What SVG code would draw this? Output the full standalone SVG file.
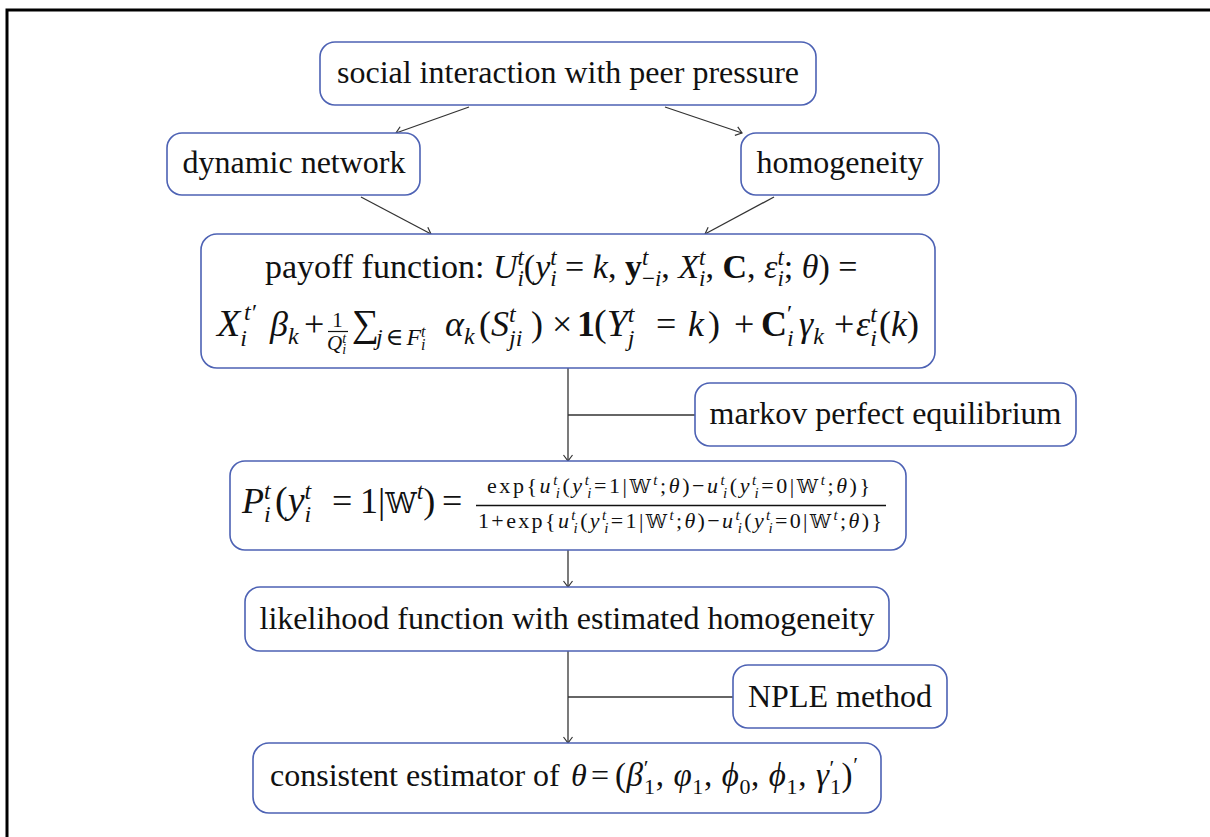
<svg xmlns="http://www.w3.org/2000/svg" width="1210" height="837" viewBox="0 0 1210 837">
<style>
.box{fill:#fff;stroke:#4d62b4;stroke-width:1.6}
.tx{font-family:"Liberation Serif","Times New Roman","DejaVu Serif",serif;fill:#111}
.c{text-anchor:middle}
.i{font-style:italic}
.b{font-weight:bold}
.ds{font-family:"DejaVu Serif","DejaVu Sans","Noto Sans",serif;font-style:normal}
.ln{fill:none;stroke:#333;stroke-width:1.3}
</style>
<defs>
<marker id="ah" markerUnits="userSpaceOnUse" markerWidth="12" markerHeight="12" viewBox="-1 -6 8 12" refX="6" refY="0" orient="auto">
<path d="M0,-4.5 L6,0 L0,4.5" fill="none" stroke="#333" stroke-width="1.2"/>
</marker>
</defs>
<path d="M7,837 V10 H1210" fill="none" stroke="#000" stroke-width="3"/>
<g id="connectors">
<path class="ln" d="M469,107 L396,133" marker-end="url(#ah)"/>
<path class="ln" d="M665,107 L742,133" marker-end="url(#ah)"/>
<path class="ln" d="M361,197 L431,234" marker-end="url(#ah)"/>
<path class="ln" d="M774,197 L705,234" marker-end="url(#ah)"/>
<path class="ln" d="M568,368 V461" marker-end="url(#ah)"/>
<path class="ln" d="M568,415 H695"/>
<path class="ln" d="M568,550 V587" marker-end="url(#ah)"/>
<path class="ln" d="M568,651 V743" marker-end="url(#ah)"/>
<path class="ln" d="M568,697 H733"/>
</g>
<g id="social">
<rect class="box" x="320" y="42" width="496" height="63" rx="15"/>
<text class="tx c" x="568" y="83" font-size="32">social interaction with peer pressure</text>
</g>
<g id="dynamic">
<rect class="box" x="167" y="133" width="253" height="62" rx="15"/>
<text class="tx c" x="294" y="173" font-size="32">dynamic network</text>
</g>
<g id="homogeneity">
<rect class="box" x="741" y="133" width="198" height="62" rx="15"/>
<text class="tx c" x="840" y="173" font-size="32">homogeneity</text>
</g>
<g id="payoff">
<rect class="box" x="201" y="234" width="734" height="134" rx="16"/>
<text class="tx" x="265" y="278" font-size="34">payoff function: <tspan class="i">U</tspan><tspan class="i" font-size="23" y="265">t</tspan><tspan class="i" font-size="23" dx="-6.4" y="286">i</tspan><tspan y="278">(</tspan><tspan class="i">y</tspan><tspan class="i" font-size="23" y="265">t</tspan><tspan class="i" font-size="23" dx="-6.4" y="286">i</tspan><tspan y="278"> = </tspan><tspan class="i">k</tspan>, <tspan class="b">y</tspan><tspan class="i" font-size="23" y="265">t</tspan><tspan font-size="23" dx="-6.4" y="286">−<tspan class="i">i</tspan></tspan><tspan y="278">, </tspan><tspan class="i">X</tspan><tspan class="i" font-size="23" y="265">t</tspan><tspan class="i" font-size="23" dx="-6.4" y="286">i</tspan><tspan y="278">, </tspan><tspan class="b">C</tspan>, <tspan class="i">ε</tspan><tspan class="i" font-size="23" y="265">t</tspan><tspan class="i" font-size="23" dx="-6.4" y="286">i</tspan><tspan y="278">; </tspan><tspan class="i">θ</tspan>) =</text>
<text class="tx" x="217" y="336" font-size="38"><tspan class="i">X</tspan><tspan class="i" font-size="24" y="346">i</tspan><tspan class="i" font-size="24" dx="-3" y="320">t′</tspan></text>
<text class="tx" x="270" y="336" font-size="36"><tspan class="i">β</tspan><tspan class="i" font-size="24" y="344">k</tspan></text>
<text class="tx" x="304" y="336" font-size="36">+</text>
<text class="tx c" x="337.5" y="327" font-size="21">1</text>
<line x1="328" y1="331.5" x2="348" y2="331.5" stroke="#111" stroke-width="1.2"/>
<text class="tx" x="327" y="350" font-size="21"><tspan class="i">Q</tspan><tspan class="i" font-size="14" y="343">t</tspan><tspan class="i" font-size="14" dx="-3.9" y="354">i</tspan></text>
<text class="tx" x="352" y="336" font-size="38">∑</text>
<text class="tx" x="376" y="345" font-size="24"><tspan class="i">j</tspan><tspan dx="3">∈</tspan><tspan class="i" dx="3">F</tspan><tspan class="i" font-size="16" y="337">t</tspan><tspan class="i" font-size="16" dx="-4.5" y="350">i</tspan></text>
<text class="tx" x="445" y="336" font-size="36"><tspan class="i">α</tspan><tspan class="i" font-size="24" y="344">k</tspan></text>
<text class="tx" x="479" y="336" font-size="36">(<tspan class="i">S</tspan><tspan class="i" font-size="24" y="322">t</tspan><tspan class="i" font-size="24" dx="-6.7" y="346">ji</tspan></text>
<text class="tx" x="531" y="336" font-size="36">)</text>
<text class="tx" x="552" y="336" font-size="36">×</text>
<text class="tx" x="577" y="336" font-size="36"><tspan class="b">1</tspan></text>
<text class="tx" x="594" y="336" font-size="38">(<tspan class="i">Y</tspan><tspan class="i" font-size="24" y="322">t</tspan><tspan class="i" font-size="24" dx="-6.7" y="346">j</tspan></text>
<text class="tx" x="656" y="336" font-size="36">=</text>
<text class="tx" x="688" y="336" font-size="36"><tspan class="i">k</tspan></text>
<text class="tx" x="708" y="336" font-size="36">)</text>
<text class="tx" x="734" y="336" font-size="36">+</text>
<text class="tx" x="761" y="336" font-size="36"><tspan class="b">C</tspan><tspan class="i" font-size="24" y="346">i</tspan><tspan font-size="24" dx="-6.7" y="321">′</tspan></text>
<text class="tx" x="799" y="336" font-size="36"><tspan class="i">γ</tspan><tspan class="i" font-size="24" y="344">k</tspan></text>
<text class="tx" x="834" y="336" font-size="36">+</text>
<text class="tx" x="856" y="336" font-size="36"><tspan class="i">ε</tspan><tspan class="i" font-size="24" y="322">t</tspan><tspan class="i" font-size="24" dx="-6.7" y="346">i</tspan></text>
<text class="tx" x="879" y="336" font-size="36">(<tspan class="i">k</tspan>)</text>
</g>
<g id="markov">
<rect class="box" x="695" y="383" width="381" height="63" rx="15"/>
<text class="tx c" x="885.5" y="424" font-size="32">markov perfect equilibrium</text>
</g>
<g id="probability">
<rect class="box" x="230" y="461" width="676" height="89" rx="15"/>
<text class="tx" x="242" y="513" font-size="36"><tspan class="i">P</tspan><tspan class="i" font-size="24" y="499">t</tspan><tspan class="i" font-size="24" dx="-6.7" y="522">i</tspan></text>
<text class="tx" x="275" y="513" font-size="38">(<tspan class="i">y</tspan><tspan class="i" font-size="24" y="499">t</tspan><tspan class="i" font-size="24" dx="-6.7" y="522">i</tspan></text>
<text class="tx" x="332" y="513" font-size="36">=</text>
<text class="tx" x="360" y="513" font-size="36">1|<tspan class="ds" font-size="28">𝕎</tspan><tspan class="i" font-size="24" y="499">t</tspan><tspan y="513">)</tspan></text>
<text class="tx" x="442" y="513" font-size="36">=</text>
<text class="tx" x="487" y="493" font-size="22" textLength="383" lengthAdjust="spacing">exp{<tspan class="i">u</tspan><tspan class="i" font-size="15" y="485">t</tspan><tspan class="i" font-size="15" dx="-4.2" y="498">i</tspan><tspan y="493">(</tspan><tspan class="i">y</tspan><tspan class="i" font-size="15" y="485">t</tspan><tspan class="i" font-size="15" dx="-4.2" y="498">i</tspan><tspan y="493">=1|</tspan><tspan class="ds" font-size="19">𝕎</tspan><tspan class="i" font-size="15" y="485">t</tspan><tspan y="493">;</tspan><tspan class="i">θ</tspan>)−<tspan class="i">u</tspan><tspan class="i" font-size="15" y="485">t</tspan><tspan class="i" font-size="15" dx="-4.2" y="498">i</tspan><tspan y="493">(</tspan><tspan class="i">y</tspan><tspan class="i" font-size="15" y="485">t</tspan><tspan class="i" font-size="15" dx="-4.2" y="498">i</tspan><tspan y="493">=0|</tspan><tspan class="ds" font-size="19">𝕎</tspan><tspan class="i" font-size="15" y="485">t</tspan><tspan y="493">;</tspan><tspan class="i">θ</tspan>)}</text>
<line x1="476" y1="505.5" x2="886" y2="505.5" stroke="#111" stroke-width="1.4"/>
<text class="tx" x="478" y="528" font-size="22" textLength="404" lengthAdjust="spacing">1+exp{<tspan class="i">u</tspan><tspan class="i" font-size="15" y="520">t</tspan><tspan class="i" font-size="15" dx="-4.2" y="533">i</tspan><tspan y="528">(</tspan><tspan class="i">y</tspan><tspan class="i" font-size="15" y="520">t</tspan><tspan class="i" font-size="15" dx="-4.2" y="533">i</tspan><tspan y="528">=1|</tspan><tspan class="ds" font-size="19">𝕎</tspan><tspan class="i" font-size="15" y="520">t</tspan><tspan y="528">;</tspan><tspan class="i">θ</tspan>)−<tspan class="i">u</tspan><tspan class="i" font-size="15" y="520">t</tspan><tspan class="i" font-size="15" dx="-4.2" y="533">i</tspan><tspan y="528">(</tspan><tspan class="i">y</tspan><tspan class="i" font-size="15" y="520">t</tspan><tspan class="i" font-size="15" dx="-4.2" y="533">i</tspan><tspan y="528">=0|</tspan><tspan class="ds" font-size="19">𝕎</tspan><tspan class="i" font-size="15" y="520">t</tspan><tspan y="528">;</tspan><tspan class="i">θ</tspan>)}</text>
</g>
<g id="likelihood">
<rect class="box" x="245" y="587" width="644" height="64" rx="15"/>
<text class="tx c" x="567" y="629" font-size="32">likelihood function with estimated homogeneity</text>
</g>
<g id="nple">
<rect class="box" x="733" y="665" width="214" height="63" rx="15"/>
<text class="tx c" x="840" y="707" font-size="32">NPLE method</text>
</g>
<g id="estimator">
<rect class="box" x="253" y="743" width="628" height="70" rx="16"/>
<text class="tx" x="270" y="786" font-size="32">consistent estimator of</text>
<text class="tx" x="571" y="786" font-size="32"><tspan class="i">θ</tspan></text>
<text class="tx" x="591" y="786" font-size="32">=</text>
<text class="tx" x="615" y="786" font-size="33" textLength="243" lengthAdjust="spacing">(<tspan class="i">β</tspan><tspan font-size="22" y="775">′</tspan><tspan font-size="22" dx="-5" y="794">1</tspan><tspan y="786">, </tspan><tspan class="i">φ</tspan><tspan font-size="22" y="794">1</tspan><tspan y="786">, </tspan><tspan class="i">ϕ</tspan><tspan font-size="22" y="794">0</tspan><tspan y="786">, </tspan><tspan class="i">ϕ</tspan><tspan font-size="22" y="794">1</tspan><tspan y="786">, </tspan><tspan class="i">γ</tspan><tspan font-size="22" y="775">′</tspan><tspan font-size="22" dx="-5" y="794">1</tspan><tspan y="786">)</tspan><tspan font-size="22" y="772">′</tspan></text>
</g>
</svg>
